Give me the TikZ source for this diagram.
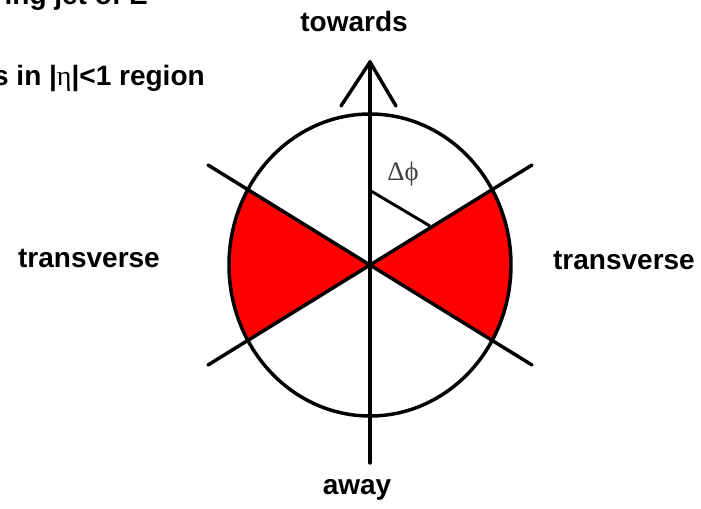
\documentclass[tikz,border=0pt]{standalone}
\usepackage{fontspec}
\setmainfont{Liberation Sans}
\newfontfamily\serifgr{Liberation Serif}
\begin{document}
\begin{tikzpicture}[x=0.75pt,y=-0.75pt,
  lbl/.style={font=\fontsize{21}{25}\selectfont\bfseries, inner sep=0pt},
  thick line/.style={line width=2.6pt, line cap=round, line join=round}]
\useasboundingbox (0,0) rectangle (701,508);
\fill[white] (0,0) rectangle (701,508);
% key points
\coordinate (c) at (370,265);
\coordinate (top) at (370,62);
\coordinate (bot) at (370,463);
\coordinate (ul) at (208,165);
\coordinate (ur) at (532,165);
\coordinate (ll) at (208,365);
\coordinate (lr) at (532,365);
% red wedges
\begin{scope}
  \clip (c) -- (600,123) -- (600,407) -- cycle;
  \fill[red] (c) ellipse [x radius=141, y radius=151];
\end{scope}
\begin{scope}
  \clip (c) -- (140,123) -- (140,407) -- cycle;
  \fill[red] (c) ellipse [x radius=141, y radius=151];
\end{scope}
% outline
\draw[line width=2.6pt] (c) ellipse [x radius=141, y radius=151];
% lines
\draw[thick line] (ul) -- (lr);
\draw[thick line] (ll) -- (ur);
\draw[thick line] (bot) -- (top);
\coordinate (al) at (341,106);
\coordinate (ar) at (396,106);
\draw[thick line] (al) -- (top) -- (ar);
\coordinate (m1) at (371,191);
\coordinate (m2) at (430,226);
\draw[line width=2.2pt] (m1) -- (m2);
% labels
\node[font=\serifgr\fontsize{20}{24}\selectfont, text=black!75, inner sep=0pt] (dphi) at (403,174) {Δϕ};
\node[lbl] (towards) at (354,21) {towards};
\node[lbl] (away) at (357,490) {away};
\node[lbl] (tl) at (89,258) {transverse};
\node[lbl] (tr) at (624,260) {transverse};
\node[lbl, anchor=base east] (t1) at (148,4) {ing jet of E};
\node[lbl, anchor=base east] (t2) at (205,85) {s in |{\serifgr\mdseries η}|<1 region};
\end{tikzpicture}
\end{document}
